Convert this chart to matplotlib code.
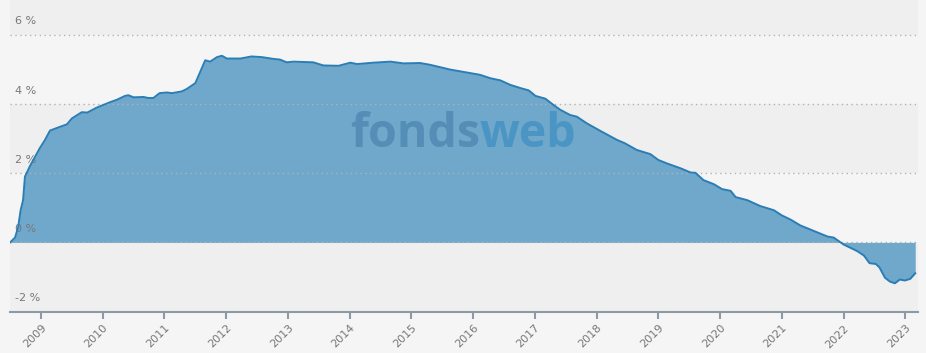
import numpy as np
import matplotlib
matplotlib.use("Agg")
import matplotlib.pyplot as plt

# Wertentwicklung (rollierend, % p.a.)
years = [2008.50, 2008.58, 2008.63, 2008.67, 2008.71, 2008.74, 2008.82, 2008.875, 2008.98, 2009.065,
         2009.146, 2009.28, 2009.42, 2009.50, 2009.66, 2009.75, 2009.90, 2010.12, 2010.23, 2010.36,
         2010.415, 2010.50, 2010.66, 2010.74, 2010.82, 2010.92, 2011.04, 2011.12, 2011.28, 2011.36,
         2011.50, 2011.58, 2011.66, 2011.74, 2011.85, 2011.93, 2012.01, 2012.23, 2012.41, 2012.58,
         2012.76, 2012.87, 2012.98, 2013.09, 2013.41, 2013.575, 2013.82, 2014.01, 2014.12, 2014.385,
         2014.66, 2014.87, 2015.14, 2015.30, 2015.63, 2015.95, 2016.11, 2016.28, 2016.44, 2016.60,
         2016.76, 2016.90, 2017.01, 2017.17, 2017.30, 2017.41, 2017.57, 2017.68, 2017.84, 2018.06,
         2018.33, 2018.46, 2018.65, 2018.87, 2019.00, 2019.14, 2019.36, 2019.52, 2019.60, 2019.73,
         2019.90, 2020.03, 2020.17, 2020.25, 2020.44, 2020.65, 2020.87, 2021.00, 2021.14, 2021.30,
         2021.52, 2021.74, 2021.84, 2022.00, 2022.22, 2022.33, 2022.42, 2022.52, 2022.58, 2022.67,
         2022.75, 2022.83, 2022.91, 2022.99, 2023.08, 2023.16]
values = [0.00, 0.14, 0.44, 0.93, 1.22, 1.90, 2.20, 2.38, 2.72, 2.96,
          3.23, 3.32, 3.41, 3.58, 3.76, 3.75, 3.89, 4.05, 4.12, 4.23,
          4.25, 4.19, 4.20, 4.17, 4.17, 4.31, 4.33, 4.31, 4.36, 4.43,
          4.60, 4.93, 5.26, 5.22, 5.35, 5.39, 5.31, 5.31, 5.37, 5.35,
          5.30, 5.28, 5.20, 5.22, 5.20, 5.11, 5.10, 5.19, 5.15, 5.19,
          5.22, 5.17, 5.18, 5.13, 4.99, 4.89, 4.84, 4.74, 4.68, 4.55,
          4.46, 4.39, 4.23, 4.15, 3.97, 3.83, 3.68, 3.63, 3.44, 3.22,
          2.96, 2.86, 2.67, 2.55, 2.38, 2.28, 2.14, 2.02, 2.01, 1.80,
          1.68, 1.54, 1.49, 1.31, 1.22, 1.05, 0.93, 0.78, 0.66, 0.49,
          0.33, 0.17, 0.14, -0.06, -0.25, -0.38, -0.60, -0.62, -0.72, -1.02,
          -1.13, -1.18, -1.07, -1.10, -1.05, -0.89]

xticks = list(range(2009, 2024))
yticks = [-2, 0, 2, 4, 6]

bg = '#f5f5f5'
band = '#efefef'
fill_col = '#6fa8cb'
line_col = '#2a7db5'
axis_col = '#8e99a8'

fig = plt.figure(figsize=(9.26, 3.53), dpi=100, facecolor=bg)
ax = fig.add_axes([10/926, 41.3/353, 907.7/926, 311.7/353])
ax.set_facecolor(bg)
ax.set_xlim(2008.498, 2023.2)
ax.set_ylim(-2, 7)

# graue Baender
for lo, hi in [(-2, 0), (2, 4), (6, 7)]:
    ax.axhspan(lo, hi, color=band, zorder=0, lw=0)

ax.fill_between(years, values, 0, color=fill_col, lw=0, zorder=1)
ax.plot(years, values, color=line_col, lw=1.4, zorder=4)

# gepunktete Gitterlinien
for v in [0, 2, 4, 6]:
    ax.axhline(v, color='#b3b3b3', lw=1, ls=(0, (1, 2.5)), zorder=3)

# Wasserzeichen: Breite auf ~227 px bringen, links bei x=350 px
t1 = ax.text(0, 0, 'fonds', ha='left', va='baseline', fontsize=34,
             fontweight='bold', family='Open Sans', color='#548db5', zorder=2)
t2 = ax.text(0, 0, 'web', ha='left', va='baseline', fontsize=34,
             fontweight='bold', family='Open Sans', color='#4b95c5', zorder=2)
fig.canvas.draw()
r = fig.canvas.get_renderer()
w = t1.get_window_extent(r).width + t2.get_window_extent(r).width
fs = 34 * 227 / w
t1.set_fontsize(fs)
t2.set_fontsize(fs)
fig.canvas.draw()
w1 = t1.get_window_extent(r).width
inv = ax.transData.inverted()
base_px = 353 - 146.7
x1, yb = inv.transform((350, base_px))
x2, _ = inv.transform((350 + w1, base_px))
t1.set_position((x1, yb))
t2.set_position((x2, yb))

# y-Beschriftungen innen links
for v in yticks:
    ax.annotate(f'{v} %', xy=(0.006, v), xycoords=('axes fraction', 'data'),
                xytext=(0, 6), textcoords='offset points', fontsize=8,
                color='#777777', ha='left', va='bottom')
ax.set_yticks([])

ax.set_xticks(xticks)
ax.set_xticklabels([str(y) for y in xticks], rotation=45, ha='right',
                   rotation_mode='anchor', fontsize=8, color='#777777')
ax.tick_params(axis='x', length=5, width=1.5, color=axis_col, pad=3)

for s in ['top', 'right', 'left']:
    ax.spines[s].set_visible(False)
ax.spines['bottom'].set_color(axis_col)
ax.spines['bottom'].set_linewidth(1.5)

fig.savefig('out.png', dpi=100, facecolor=bg)
